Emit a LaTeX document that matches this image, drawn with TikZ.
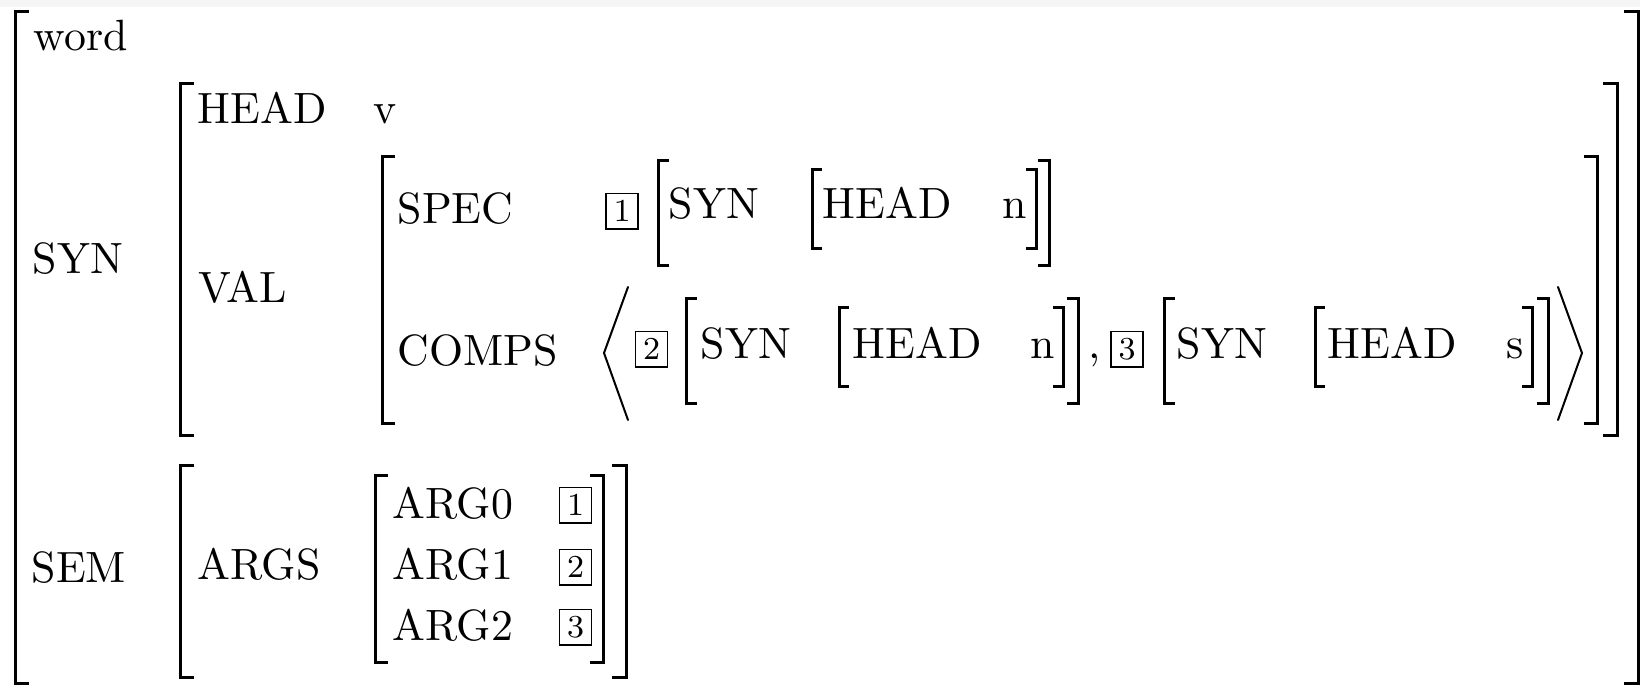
\documentclass[tikz,border=0pt]{standalone}
\begin{document}
\begin{tikzpicture}[x=0.25pt,y=-0.25pt,
  lbl/.style={anchor=base west,inner sep=0pt,font=\fontsize{10.95}{13}\selectfont},
  tag/.style={draw,line width=0.45pt,inner sep=0pt,minimum width=8pt,minimum height=8.8pt,
              font=\fontsize{8}{9}\selectfont},
  brk/.style={line width=0.75pt,line cap=butt,line join=miter},
  ang/.style={line width=0.5pt,line cap=round,line join=miter}]
% page area and the light strip along the top edge
\useasboundingbox (0,0) rectangle (1640,687);
\fill[black!4] (0,0) rectangle (1640,7);
% square brackets: \avmL{x}{top}{bottom}{serif}, \avmR{x}{top}{bottom}{serif}
\newcommand\avmL[4]{\draw[brk] ({#1+#4},#2) -- (#1,#2) -- (#1,#3) -- ({#1+#4},#3);}
\newcommand\avmR[4]{\draw[brk] ({#1-#4},#2) -- (#1,#2) -- (#1,#3) -- ({#1-#4},#3);}

% outermost structure
\avmL{15}{11}{683}{14}
\avmR{1638}{11}{683}{14}
\node[lbl] (word) at (33,50) {word};
\node[lbl] (syn) at (32,273) {SYN};
\node[lbl] (sem) at (31,582) {SEM};

% SYN value
\avmL{180}{83}{435}{14}
\avmR{1617}{83}{435}{14}
\node[lbl] (head) at (197,123) {HEAD};
\node[lbl] (headv) at (373,123) {v};
\node[lbl] (val) at (198,302) {VAL};

% VAL value
\avmL{382}{156}{423}{13}
\avmR{1597}{156}{423}{13}
\node[lbl] (spec) at (397,223) {SPEC};
\node[lbl] (comps) at (397,365) {COMPS};

% SPEC value
\node[tag] (t1) at (622,211) {1};
\avmL{658}{160}{265}{11}
\node[lbl] (s1syn) at (668,218) {SYN};
\avmL{812}{169}{248}{10}
\node[lbl] (s1head) at (822,218) {HEAD};
\node[lbl] (s1n) at (1002,218) {n};
\avmR{1036}{169}{248}{10}
\avmR{1049}{160}{265}{11}

% COMPS value: list of two items
\draw[ang] (628,287) -- (604,353) -- (628,420);
\node[tag] (t2) at (651.5,349) {2};
\avmL{686}{298}{403}{11}
\node[lbl] (c1syn) at (700,358) {SYN};
\avmL{839}{307}{386}{10}
\node[lbl] (c1head) at (852,358) {HEAD};
\node[lbl] (c1n) at (1030,358) {n};
\avmR{1063}{307}{386}{10}
\avmR{1078}{298}{403}{11}
\node[lbl] (comma) at (1088,358) {,};
\node[tag] (t3) at (1127,349) {3};
\avmL{1164}{298}{403}{11}
\node[lbl] (c2syn) at (1176,358) {SYN};
\avmL{1315}{307}{386}{10}
\node[lbl] (c2head) at (1327,358) {HEAD};
\node[lbl] (c2s) at (1506,358) {s};
\avmR{1532}{307}{386}{10}
\avmR{1548}{298}{403}{11}
\draw[ang] (1558,287) -- (1582,353) -- (1558,420);

% SEM value
\avmL{180}{465}{677}{14}
\avmR{626}{465}{677}{14}
\node[lbl] (args) at (197,579) {ARGS};
\avmL{375}{475}{662}{13}
\avmR{603}{475}{662}{13}
\node[lbl] (arg0) at (392,518) {ARG0};
\node[lbl] (arg1) at (392,579) {ARG1};
\node[lbl] (arg2) at (392,640) {ARG2};
\node[tag] (a1) at (575.5,505) {1};
\node[tag] (a2) at (575.5,567) {2};
\node[tag] (a3) at (575.5,627) {3};
\end{tikzpicture}
\end{document}
